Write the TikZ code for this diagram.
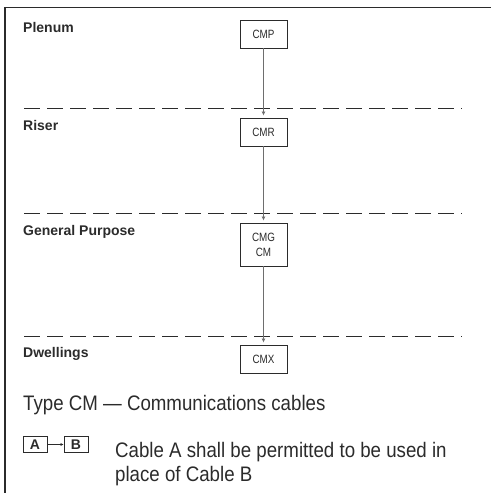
\documentclass[tikz,border=0pt]{standalone}
\usepackage{fontspec}
\usetikzlibrary{arrows.meta}
\setmainfont{Liberation Sans}
\newfontfamily\condfont[FakeStretch=0.89]{Liberation Sans}
\definecolor{inkgray}{HTML}{2B2B2B}
\definecolor{linegray}{HTML}{6E6E6E}
\begin{document}
\begin{tikzpicture}[x=1pt,y=-1pt,auto,
cable/.style ={rectangle, draw=inkgray, line width=0.9pt, fill=white,
  minimum width=47pt, minimum height=28pt, inner sep=0pt,
  align=center, font=\fontsize{12}{15}\selectfont\addfontfeature{FakeStretch=0.82},
  text=inkgray
},
area/.style ={anchor=base west, font=\fontsize{14}{16}\selectfont\bfseries,
  text=inkgray, inner sep=0pt
},
legend/.style ={rectangle, draw=inkgray, line width=0.9pt,
  minimum width=24pt, minimum height=16pt, inner sep=0pt,
  font=\fontsize{14}{14}\selectfont\bfseries, text=inkgray
},
flow/.style ={draw=linegray, line width=0.9pt, -{Latex[length=4pt,width=4pt]},
  shorten >=2pt
},
border/.style ={draw=inkgray, line width=1.4pt},
floor/.style ={draw=inkgray, line width=0.9pt, dash pattern=on 16pt off 7pt}
]
\useasboundingbox (0,0) rectangle (491,493);
\draw[border] (5,493) -- (5,7.5) -- (491,7.5);
% floors
\draw[floor] (24,108.5) -- (462,108.5);
\draw[floor] (24,213) -- (462,213);
\draw[floor] (24,336) -- (462,336);
% areas
\node (plenum) at (23,32.7) [area] {Plenum};
\node (riser) at (23,130.5) [area] {Riser};
\node (general) at (23,235) [area] {General Purpose};
\node (dwell) at (23,357) [area] {Dwellings};
% cables
\node (cmp) at (263.5,34) [cable] {CMP};
\node (cmr) at (263.5,132) [cable] {CMR};
\node (cmg) at (263.5,244.5) [cable, minimum height=43pt] {CMG\\CM};
\node (cmx) at (263.5,359) [cable] {CMX};
\draw[flow] (cmp) -- (cmr);
\draw[flow] (cmr) -- (cmg);
\draw[flow] (cmg) -- (cmx);
% legend
\node (type) at (23,410) [anchor=base west, inner sep=0pt, text=inkgray,
  font=\fontsize{21}{24}\selectfont\condfont] {Type CM — Communications cables};
\node (la) at (35,444.5) [legend] {A};
\node (lb) at (76,444.5) [legend] {B};
\draw[draw=inkgray, line width=0.7pt, -{Latex[length=3pt,width=3pt]}] (la) -- (lb);
\node (note) at (115,481) [anchor=base west, inner sep=0pt, align=left, text=inkgray,
  font=\fontsize{21}{24}\selectfont\condfont]
  {Cable A shall be permitted to be used in\\place of Cable B};
\end{tikzpicture}
\end{document}
